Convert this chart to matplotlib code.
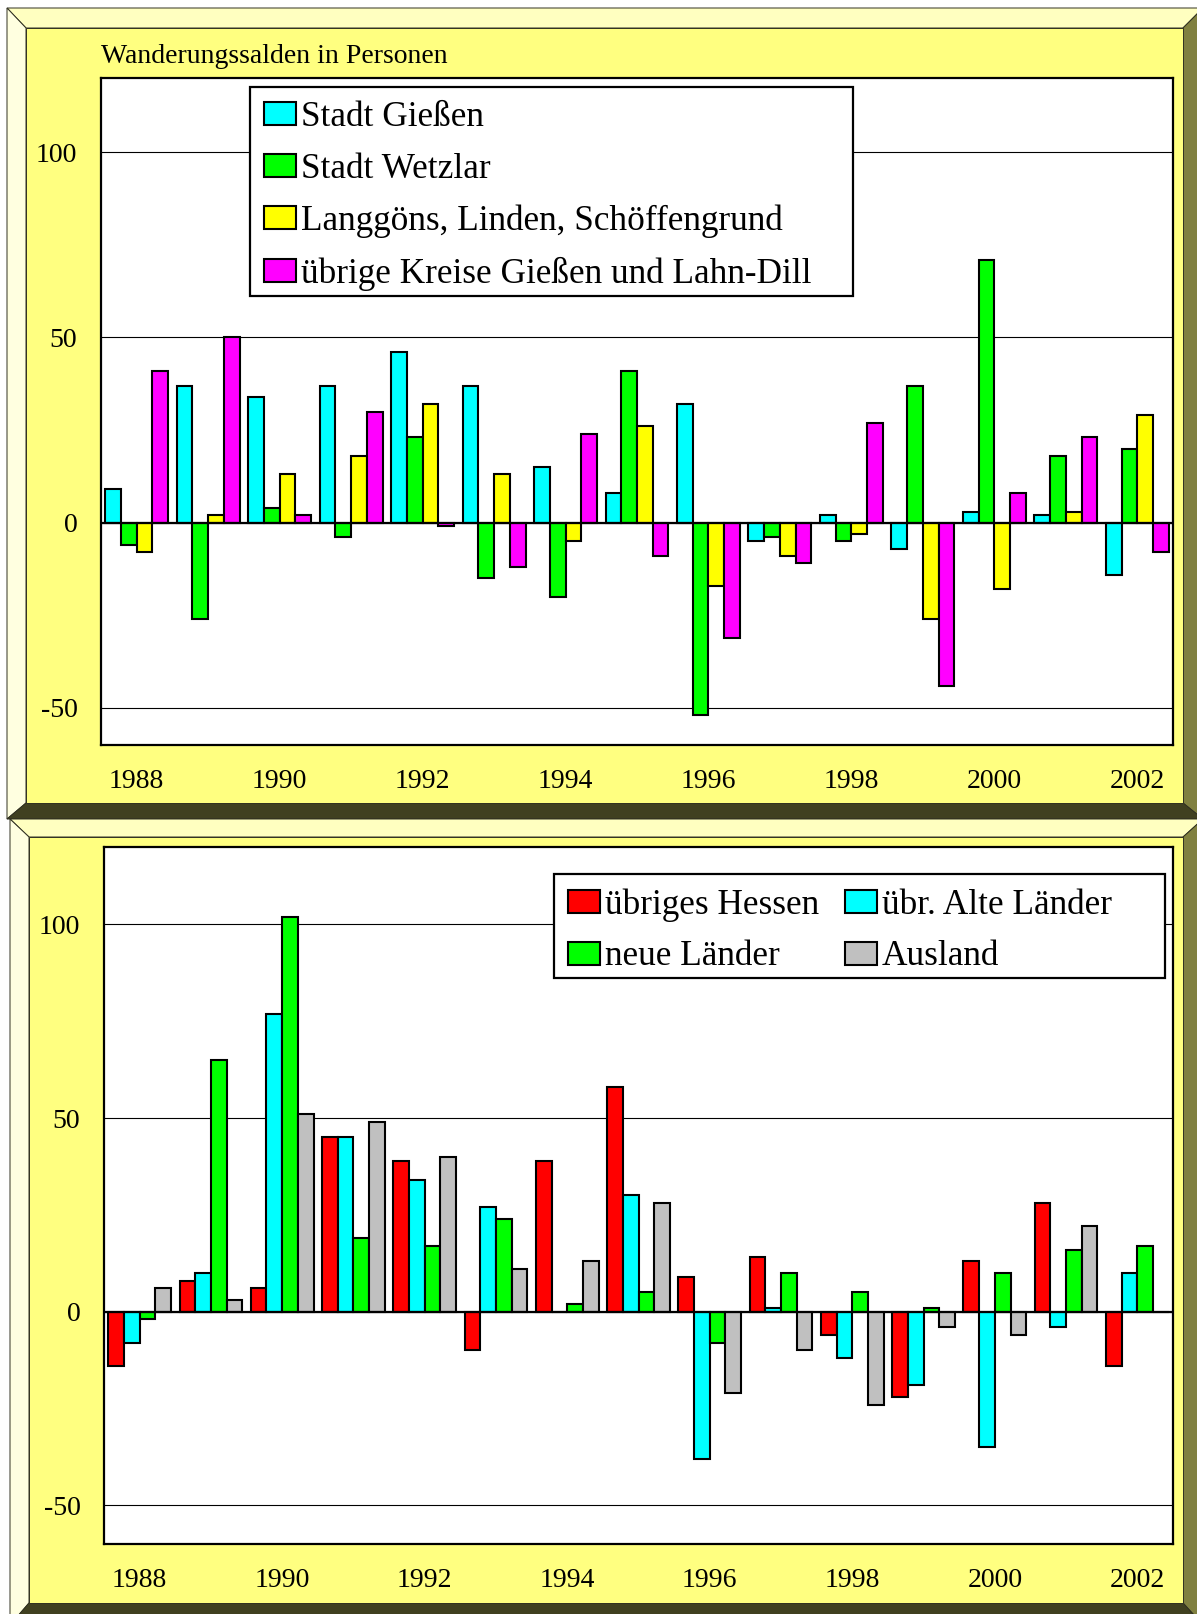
import numpy as np
import matplotlib
matplotlib.use("Agg")
import matplotlib.pyplot as plt
from matplotlib.patches import Polygon, Patch, Rectangle

plt.rcParams['font.family'] = ['Liberation Serif', 'DejaVu Serif']
plt.rcParams['axes.unicode_minus'] = False

years = list(range(1988, 2003))
tick_years = years[::2]

# Wanderungssalden (Personen) je Jahr, oberes Diagramm: Region
stadt_giessen = [9, 37, 34, 37, 46, 37, 15, 8, 32, -5, 2, -7, 3, 2, -14]
stadt_wetzlar = [-6, -26, 4, -4, 23, -15, -20, 41, -52, -4, -5, 37, 71, 18, 20]
langgoens_linden = [-8, 2, 13, 18, 32, 13, -5, 26, -17, -9, -3, -26, -18, 3, 29]
uebrige_kreise = [41, 50, 2, 30, -1, -12, 24, -9, -31, -11, 27, -44, 8, 23, -8]

# unteres Diagramm: überregional
uebriges_hessen = [-14, 8, 6, 45, 39, -10, 39, 58, 9, 14, -6, -22, 13, 28, -14]
alte_laender = [-8, 10, 77, 45, 34, 27, 0, 30, -38, 1, -12, -19, -35, -4, 10]
neue_laender = [-2, 65, 102, 19, 17, 24, 2, 5, -8, 10, 5, 1, 10, 16, 17]
ausland = [6, 3, 51, 49, 40, 11, 13, 28, -21, -10, -24, -4, -6, 22, 0]

region_series = [
    ("Stadt Gießen", stadt_giessen, "#00FFFF"),
    ("Stadt Wetzlar", stadt_wetzlar, "#00FF00"),
    ("Langgöns, Linden, Schöffengrund", langgoens_linden, "#FFFF00"),
    ("übrige Kreise Gießen und Lahn-Dill", uebrige_kreise, "#FF00FF"),
]
fern_series = [
    ("übriges Hessen", uebriges_hessen, "#FF0000"),
    ("übr. Alte Länder", alte_laender, "#00FFFF"),
    ("neue Länder", neue_laender, "#00FF00"),
    ("Ausland", ausland, "#C0C0C0"),
]

W, H = 1197, 1614
fig = plt.figure(figsize=(W / 100, H / 100), dpi=100)
fig.patch.set_facecolor("white")


def fx(x):
    return x / W


def fy(y):
    return 1 - y / H


def poly(points, color):
    pts = [(fx(x), fy(y)) for x, y in points]
    fig.patches.append(Polygon(pts, closed=True, transform=fig.transFigure,
                               facecolor=color, edgecolor="#303020",
                               linewidth=0.7, zorder=-1))


def draw_frame(x0, y0, x1, y1, bt, bl, br, bb):
    # abgeschrägter gelber Rahmen hinter jedem Diagramm
    poly([(x0, y0), (x1, y0), (x1 - br, y0 + bt), (x0 + bl, y0 + bt)], "#FFFFC0")
    poly([(x0, y0), (x0 + bl, y0 + bt), (x0 + bl, y1 - bb), (x0, y1)], "#FFFFE0")
    poly([(x1, y0), (x1, y1), (x1 - br, y1 - bb), (x1 - br, y0 + bt)], "#808040")
    poly([(x0, y1), (x1, y1), (x1 - br, y1 - bb), (x0 + bl, y1 - bb)], "#404020")
    poly([(x0 + bl, y0 + bt), (x1 - br, y0 + bt), (x1 - br, y1 - bb), (x0 + bl, y1 - bb)], "#FFFF80")


draw_frame(7, 8, 1203, 819, 20, 19, 20, 16)
draw_frame(10, 819, 1203, 1625, 18, 19, 20, 22)


def bar_panel(left, top, right, bottom, series):
    ax = fig.add_axes([fx(left), fy(bottom), fx(right - left), (bottom - top) / H])
    ax.set_facecolor("white")
    x = np.arange(len(years))
    width = 0.22
    for k, (label, values, color) in enumerate(series):
        ax.bar(x + (k - 1.5) * width, values, width, color=color,
               edgecolor="black", linewidth=1.5, label=label, zorder=3)
    ax.axhline(0, color="black", linewidth=1.6, zorder=4)
    ax.set_xlim(-0.5, len(years) - 0.5)
    ax.set_ylim(-60, 120)
    ax.set_yticks([-50, 0, 50, 100])
    ax.set_xticks(x[::2])
    ax.set_xticklabels([str(y) for y in tick_years])
    ax.tick_params(length=0, labelsize=20, pad=17)
    ax.yaxis.grid(True, color="black", linewidth=0.8, zorder=0)
    ax.set_axisbelow(True)
    for sp in ax.spines.values():
        sp.set_linewidth(1.6)
        sp.set_color("black")
    return ax


def add_legend(ax, handles, labels, box, ncol):
    # weißer Kasten mit Rand, Legende ohne eigenen Rahmen darin
    x0, y0, x1, y1 = box
    ax.add_patch(Rectangle((x0, y0), x1 - x0, y1 - y0, transform=ax.transAxes,
                           facecolor="white", edgecolor="black", linewidth=1.6,
                           zorder=9))
    leg = ax.legend(handles, labels, loc="upper left", bbox_to_anchor=(x0, y1),
                    ncol=ncol, fontsize=25.4, frameon=False, borderpad=0.4,
                    handlelength=0.9, handleheight=0.62, handletextpad=0.14,
                    labelspacing=0.53, columnspacing=0.75, borderaxespad=0)
    leg.set_zorder(10)
    return leg


ax1 = bar_panel(101, 78, 1173, 745, region_series)
ax1.text(0.0, 1.0225, "Wanderungssalden in Personen", transform=ax1.transAxes,
         fontsize=20, ha="left", va="baseline")
h1 = [Patch(facecolor=c, edgecolor="black", linewidth=1.5) for _, _, c in region_series]
add_legend(ax1, h1, [s[0] for s in region_series], (0.139, 0.673, 0.7015, 0.9865), 1)

ax2 = bar_panel(104, 847, 1173, 1544, fern_series)
h2 = [Patch(facecolor=c, edgecolor="black", linewidth=1.5) for _, _, c in fern_series]
order = [0, 2, 1, 3]
add_legend(ax2, [h2[i] for i in order], [fern_series[i][0] for i in order],
           (0.421, 0.812, 0.9925, 0.961), 2)

fig.savefig("out.png", dpi=100)
